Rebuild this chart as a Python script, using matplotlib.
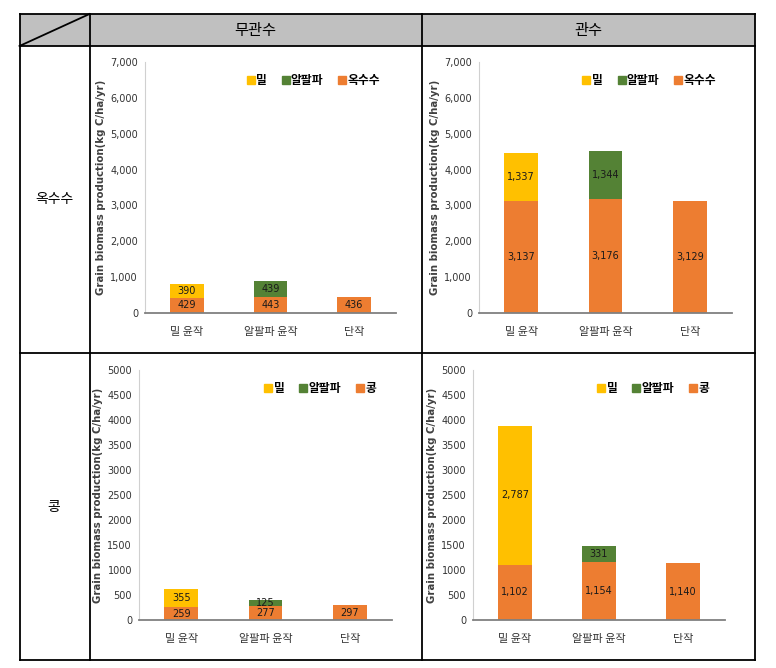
import matplotlib
matplotlib.use('Agg')
from matplotlib import pyplot
from matplotlib.lines import Line2D
from matplotlib.patches import Rectangle
from matplotlib.ticker import FuncFormatter

# data
categories = ['밀 윤작', '알팔파 윤작', '단작']
col_titles = ['무관수', '관수']
row_titles = ['옥수수', '콩']
legend_names = [['밀', '알팔파', '옥수수'], ['밀', '알팔파', '콩']]

# main crop (bottom), wheat (top), alfalfa (top)
corn_dry_main = [429, 443, 436]
corn_dry_wheat = [390, 0, 0]
corn_dry_alfalfa = [0, 439, 0]
corn_irr_main = [3137, 3176, 3129]
corn_irr_wheat = [1337, 0, 0]
corn_irr_alfalfa = [0, 1344, 0]
bean_dry_main = [259, 277, 297]
bean_dry_wheat = [355, 0, 0]
bean_dry_alfalfa = [0, 125, 0]
bean_irr_main = [1102, 1154, 1140]
bean_irr_wheat = [2787, 0, 0]
bean_irr_alfalfa = [0, 331, 0]

yellow, green, orange = '#FFC000', '#548235', '#ED7D31'
W, H = 776, 668
KR = ['Noto Sans CJK KR', 'DejaVu Sans']
NARROW = ['Liberation Sans Narrow', 'DejaVu Sans']

fig = pyplot.figure(figsize=(W / 100, H / 100), dpi=100)


def fx(x):
    return x / W


def fy(y):
    return 1 - y / H


# table frame
lw = 1.3
fig.add_artist(Rectangle((fx(19.5), fy(46)), fx(755) - fx(19.5), fy(14) - fy(46),
                         transform=fig.transFigure, facecolor='#C0C0C0',
                         edgecolor='none', zorder=0))
for xs, ys in [([19.5, 755], [14, 14]), ([19.5, 755], [46, 46]),
               ([19.5, 755], [353, 353]), ([19.5, 755], [660, 660]),
               ([19.5, 19.5], [14, 660]), ([89.5, 89.5], [14, 660]),
               ([422, 422], [14, 660]), ([755, 755], [14, 660]),
               ([19.5, 89.5], [46, 14])]:
    fig.add_artist(Line2D([fx(v) for v in xs], [fy(v) for v in ys],
                          transform=fig.transFigure, color='black', lw=lw))

fig.text(fx(255), fy(30), col_titles[0], ha='center', va='center',
         fontsize=11, family=KR)
fig.text(fx(588), fy(30), col_titles[1], ha='center', va='center',
         fontsize=11, family=KR)
fig.text(fx(54), fy(199), row_titles[0], ha='center', va='center',
         fontsize=10, family=KR)
fig.text(fx(54), fy(507), row_titles[1], ha='center', va='center',
         fontsize=10, family=KR)

panels = [
    ((145, 396, 62, 313), corn_dry_main, corn_dry_wheat, corn_dry_alfalfa, 7000, 1000, True, legend_names[0]),
    ((479, 732, 62, 313), corn_irr_main, corn_irr_wheat, corn_irr_alfalfa, 7000, 1000, True, legend_names[0]),
    ((139, 392, 370, 620), bean_dry_main, bean_dry_wheat, bean_dry_alfalfa, 5000, 500, False, legend_names[1]),
    ((473, 725, 370, 620), bean_irr_main, bean_irr_wheat, bean_irr_alfalfa, 5000, 500, False, legend_names[1]),
]

x = range(len(categories))
for (x0, x1, y0, y1), main, wheat, alfalfa, ymax, step, comma, names in panels:
    ax = fig.add_axes([fx(x0), fy(y1), fx(x1) - fx(x0), fy(y0) - fy(y1)])
    ax.bar(x, main, width=0.4, color=orange)
    ax.bar(x, wheat, width=0.4, bottom=main, color=yellow)
    ax.bar(x, alfalfa, width=0.4, bottom=main, color=green)
    for i in x:
        ax.text(i, main[i] / 2, f'{main[i]:,}', ha='center', va='center',
                fontsize=7, family=NARROW, color='#1a1a1a')
        top = wheat[i] + alfalfa[i]
        if top:
            ax.text(i, main[i] + top / 2, f'{top:,}', ha='center', va='center',
                    fontsize=7, family=NARROW, color='#1a1a1a')
    ax.set_xlim(-0.5, 2.5)
    ax.set_ylim(0, ymax)
    ax.set_yticks(range(0, ymax + 1, step))
    if comma:
        ax.yaxis.set_major_formatter(FuncFormatter(lambda v, p: f'{int(v):,}'))
    ax.set_xticks(list(x))
    ax.set_xticklabels(categories, family=KR, fontsize=8)
    ax.tick_params(axis='both', length=0, labelcolor='#333333')
    ax.tick_params(axis='x', pad=10)
    ax.tick_params(axis='y', pad=5, labelsize=7)
    for lab in ax.get_yticklabels():
        lab.set_family(NARROW)
    for side in ['top', 'right']:
        ax.spines[side].set_visible(False)
    ax.spines['bottom'].set_color('#808080')
    ax.spines['bottom'].set_linewidth(1.3)
    ax.spines['left'].set_color('#D0D0D0')
    ax.spines['left'].set_linewidth(0.8)
    ax.set_ylabel('Grain biomass production(kg C/ha/yr)', fontsize=7.3,
                  color='#404040', fontweight='bold', labelpad=3)
    handles = [Line2D([], [], marker='s', linestyle='none', markersize=6,
                      markerfacecolor=c, markeredgecolor=c)
               for c in (yellow, green, orange)]
    ax.legend(handles, names, loc='center right', bbox_to_anchor=(0.98, 0.925),
              ncol=3, frameon=False, handlelength=0.6, handletextpad=0.15,
              columnspacing=1.3, prop={'family': KR, 'size': 8.5, 'weight': 'bold'})

fig.savefig('out.png', dpi=100)
